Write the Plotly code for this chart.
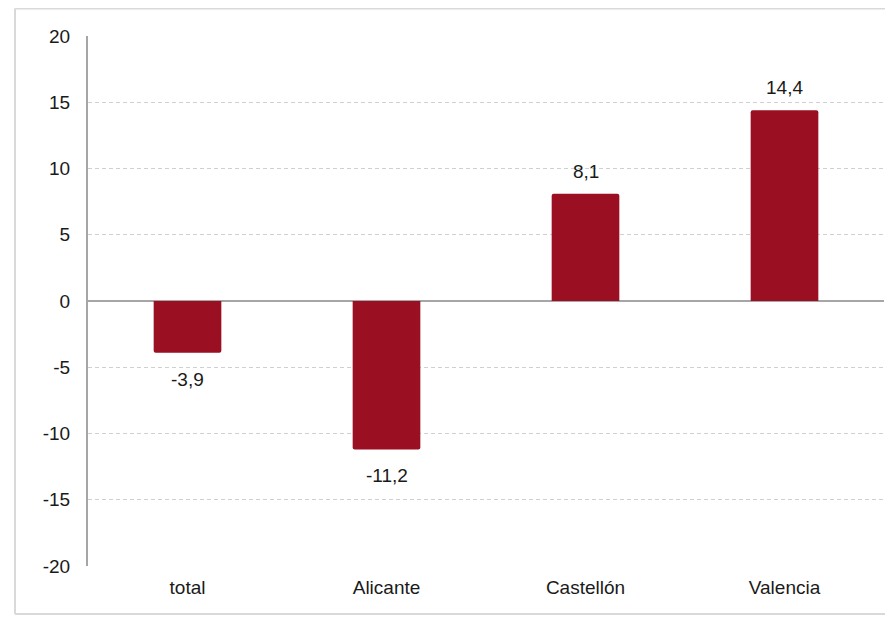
import plotly.graph_objects as go

# data
categories = ["total", "Alicante", "Castellón", "Valencia"]
values = [-3.9, -11.2, 8.1, 14.4]
y_ticks = [-20, -15, -10, -5, 0, 5, 10, 15, 20]

bar_color = "#9b0f23"
text_color = "#1a1a1a"
font_family = "Liberation Sans, Arial, sans-serif"

fig = go.Figure(data=[go.Bar(
    x=categories,
    y=values,
    marker_color=bar_color,
    marker_line_width=0,
    marker_cornerradius=2,
    width=0.34,
)])

# value labels, a bit further away from the bar ends than plotly's outside text
for cat, val in zip(categories, values):
    fig.add_annotation(
        x=cat, y=val,
        text=f"{val:.1f}".replace(".", ","),
        showarrow=False,
        yanchor="bottom" if val >= 0 else "top",
        yshift=10 if val >= 0 else -14,
        font=dict(size=19, color=text_color, family=font_family),
    )

# the page body adds an 8px margin, so the figure is sized to fit inside it
fig.update_layout(
    width=877,
    height=607,
    margin=dict(l=80, r=1, t=28, b=49),
    plot_bgcolor="white",
    paper_bgcolor="white",
    showlegend=False,
    font=dict(family=font_family, size=19, color=text_color),
)

fig.update_yaxes(
    range=[-20, 20],
    tickvals=y_ticks,
    ticktext=[str(v) for v in y_ticks],
    showgrid=True,
    gridcolor="#d0d0d0",
    griddash="4px,3px",
    gridwidth=1,
    zeroline=True,
    zerolinecolor="#a6a6a6",
    zerolinewidth=2,
    showline=True,
    linecolor="#a6a6a6",
    linewidth=2,
    ticks="",
    ticklabelstandoff=12,
    tickfont=dict(size=19, color=text_color),
)

fig.update_xaxes(
    showline=False,
    showgrid=False,
    ticks="",
    ticklabelstandoff=8,
    tickfont=dict(size=19, color=text_color),
)

# light frame around the chart: left, top and bottom edges only
frame_left, frame_right = -0.0917, 1.3
frame_bottom, frame_top = -0.0906, 1.052
for x0, y0, x1, y1 in [
    (frame_left, frame_bottom, frame_left, frame_top),
    (frame_left, frame_top, frame_right, frame_top),
    (frame_left, frame_bottom, frame_right, frame_bottom),
]:
    fig.add_shape(
        type="line", xref="paper", yref="paper",
        x0=x0, y0=y0, x1=x1, y1=y1,
        line=dict(color="#d9d9d9", width=2),
        layer="below",
    )

fig.write_html("out.html")
